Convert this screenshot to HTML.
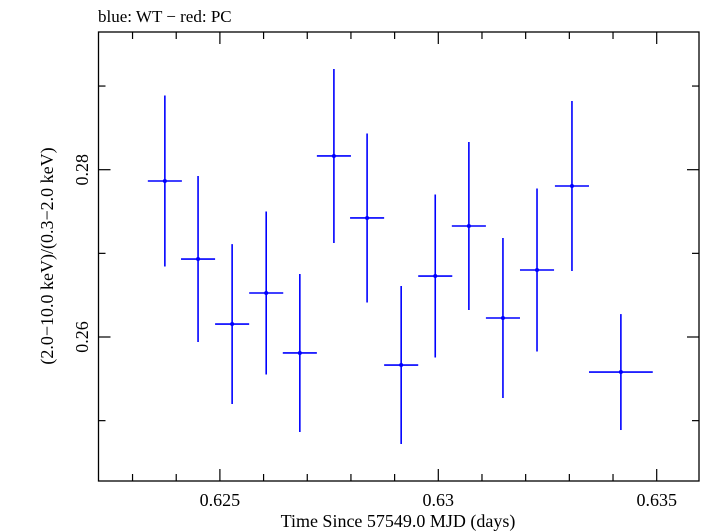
<!DOCTYPE html>
<html><head><meta charset="utf-8"><style>
body{margin:0;background:#fff;}
svg{display:block;font-family:"Liberation Serif",serif;}
</style></head><body>
<svg id="chart" width="705" height="532" viewBox="0 0 705 532" xmlns="http://www.w3.org/2000/svg">
<text x="98" y="22" font-size="17">blue: WT − red: PC</text>
<rect x="98.5" y="32" width="600.5" height="449" fill="none" stroke="#000" stroke-width="1.3"/>
<g id="ticks"></g>
<g id="marks"></g>
<text x="398" y="527" font-size="18" text-anchor="middle">Time Since 57549.0 MJD (days)</text>
<text transform="translate(53,256) rotate(-90)" font-size="18" text-anchor="middle">(2.0−10.0 keV)/(0.3−2.0 keV)</text>
</svg>
<script>
const times=[0.62374,0.62450,0.62528,0.62606,0.62683,0.62761,0.62837,0.62915,0.62993,0.63070,0.63148,0.63226,0.63306,0.63418];
const timeHalfWidths=[0.00039,0.00039,0.00039,0.00039,0.00039,0.00039,0.00039,0.00039,0.00039,0.00039,0.00039,0.00039,0.00039,0.00073];
const ratios=[0.27865,0.26932,0.26155,0.26526,0.25809,0.28164,0.27423,0.25665,0.26729,0.27327,0.26227,0.26801,0.27805,0.25581];
const ratioErrors=[0.01022,0.00992,0.00956,0.00974,0.00944,0.0104,0.0101,0.00944,0.00974,0.01004,0.00956,0.00974,0.01016,0.00693];
const xTickLabels=["0.625","0.63","0.635"];
const xTickValues=[0.625,0.63,0.635];
const yTickLabels=["0.26","0.28"];
const yTickValues=[0.26,0.28];

const X0=98.5,X1=699,Y0=32,Y1=481;
function xs(v){return 219.9+(v-0.625)*43680;}
function ys(v){return 169.7-(v-0.28)*8365;}
const NS="http://www.w3.org/2000/svg";
function mk(tag,attrs,parent){const e=document.createElementNS(NS,tag);for(const k in attrs)e.setAttribute(k,attrs[k]);parent.appendChild(e);return e;}
const tg=document.getElementById('ticks');
for(let i=0;i<=14;i++){const m=622+i;const v=m/1000;const x=xs(v);if(x<X0||x>X1)continue;
 const major=(m%5===0);const L=major?12:7;
 const t1=mk('line',{x1:x,x2:x,y1:Y1,y2:Y1-L,stroke:'#000','stroke-width':1.2},tg);
 
 
 const t2=mk('line',{x1:x,x2:x,y1:Y0,y2:Y0+L,stroke:'#000','stroke-width':1.2},tg);
 
 }
for(let i=0;i<=6;i++){const m=24+i;const v=m/100;const y=ys(v);if(y<Y0||y>Y1)continue;
 const major=(m%2===0);const L=major?12:7;
 const t1=mk('line',{x1:X0,x2:X0+L,y1:y,y2:y,stroke:'#000','stroke-width':1.2},tg);
 
 
 const t2=mk('line',{x1:X1,x2:X1-L,y1:y,y2:y,stroke:'#000','stroke-width':1.2},tg);
 
 }
xTickValues.forEach((v,i)=>{const t=mk('text',{x:xs(v),y:506,'font-size':18,'text-anchor':'middle'},tg);t.textContent=xTickLabels[i];
 
 });
yTickValues.forEach((v,i)=>{const t=mk('text',{transform:`translate(88,${ys(v)}) rotate(-90)`,'font-size':18,'text-anchor':'middle'},tg);t.textContent=yTickLabels[i];
 
 });
const mg=document.getElementById('marks');
times.forEach((t,i)=>{
 const g=mk('g',{},mg);
 
 
 const x=xs(t),y=ys(ratios[i]);
 mk('line',{x1:xs(t-timeHalfWidths[i]),x2:xs(t+timeHalfWidths[i]),y1:y,y2:y,stroke:'#0000ff','stroke-width':1.6},g);
 mk('line',{x1:x,x2:x,y1:ys(ratios[i]+ratioErrors[i]),y2:ys(ratios[i]-ratioErrors[i]),stroke:'#0000ff','stroke-width':1.6},g);
 mk('circle',{cx:x,cy:y,r:2,fill:'#0000ff'},g);
});
</script>
</body></html>
